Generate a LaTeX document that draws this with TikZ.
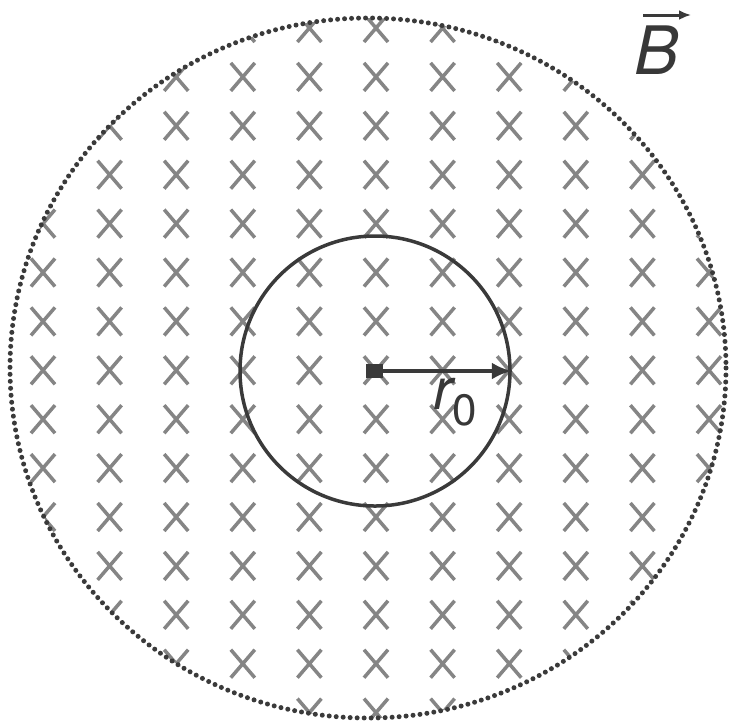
\documentclass[tikz,border=0pt]{standalone}
\usepackage{fontspec}
\newfontfamily\labelfont{TeX Gyre Heros}
\usetikzlibrary{arrows.meta, shapes.misc}
\definecolor{ink}{HTML}{3A3A3A}
\definecolor{fieldx}{HTML}{858585}

\begin{document}
\begin{tikzpicture}[
    x=0.2mm, y=-0.2mm,
    bx/.style={cross out, draw=fieldx, line width=2pt, minimum width=4.8mm, minimum height=5.6mm, inner sep=0pt, outer sep=0pt},
    rim/.style={draw=ink, line width=1mm, line cap=round, dash pattern=on 0pt off 1.4mm},
    ring/.style={circle, draw=ink, line width=0.7mm, minimum size=54mm, inner sep=0pt},
    hub/.style={fill=ink, minimum width=3.4mm, minimum height=2.8mm, inner sep=0pt},
    ar/.style={-{Latex[length=4mm, width=3.4mm]}, draw=ink, line width=0.9mm},
    vecar/.style={-{Latex[length=2.4mm, width=2mm]}, draw=ink, line width=0.6mm},
    lbl/.style={text=black!78, inner sep=0pt, font=\labelfont\fontsize{33}{40}\selectfont}
  ]
    \useasboundingbox (0,0) rectangle (746,725);
    % field into the page
    \begin{scope}
      \clip (368,368) ellipse (358 and 350);
      \foreach \i in {0,...,10}
        \foreach \j in {0,...,14}
          \node[bx] (x-\i-\j) at ({43+66.6*\i},{28+48.9*\j}) {};
    \end{scope}
    \draw[rim] (368,368) ellipse (358 and 350);
    \node[ring] (orbit) at (375,371) {};
    \node[hub] (ctr) at (374,371) {};
    \draw[ar] (ctr.east) -- (orbit.east);
    \node[lbl] (rzero) at (455,402) {\itshape r\upshape\raisebox{-0.28em}{\fontsize{25}{28}\selectfont 0}};
    \node[lbl, font=\labelfont\fontsize{38}{44}\selectfont] (bfield) at (657,50) {\itshape B};
    \coordinate (bl) at (643,15);
    \coordinate (br) at (691,15);
    \draw[vecar] (bl) -- (br);
\end{tikzpicture}
\end{document}
